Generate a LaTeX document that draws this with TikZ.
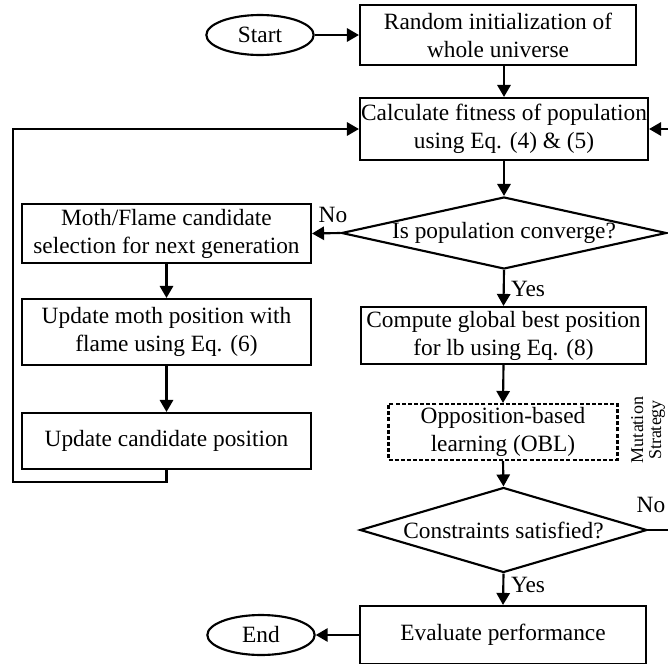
\documentclass[tikz,border=0pt]{standalone}
\usepackage{fontspec}
\setmainfont{Liberation Serif}
\usetikzlibrary{arrows.meta,shapes.geometric}
\begin{document}
\begin{tikzpicture}[x=0.75pt,y=-0.75pt,
    font=\fontsize{17.5}{21}\selectfont,
    every node/.style={inner sep=0pt,align=center},
    box/.style={draw,line width=1.6pt,rectangle},
    dbox/.style={draw,line width=1.6pt,rectangle,dash pattern=on 3pt off 1.6pt},
    term/.style={draw,line width=1.6pt,ellipse,minimum width=80.5pt,minimum height=30pt},
    test/.style={draw,line width=1.6pt,diamond},
    link/.style={line width=1.6pt,-{Triangle[length=9pt,width=10pt]}}]
  \useasboundingbox (0,0) rectangle (668,664);
  \draw
    (260,35) node[term] (start){Start}
    (498,35) node[box,minimum width=207pt,minimum height=45pt] (init){Random initialization of\\whole universe}
    (504,129) node[box,minimum width=216pt,minimum height=46.5pt] (fit){Calculate fitness of population\\using Eq. (4) \& (5)}
    (504,233) node[test,minimum width=243.75pt,minimum height=54pt] (conv){\makebox[0pt]{Is population converge?}}
    (166.5,233.5) node[box,minimum width=216.75pt,minimum height=44.25pt] (sel){Moth/Flame candidate\\selection for next generation}
    (166.5,332) node[box,minimum width=216.75pt,minimum height=49.5pt] (upd){Update moth position with\\flame using Eq. (6)}
    (166.5,441) node[box,minimum width=216.75pt,minimum height=42pt] (cand){Update candidate position}
    (503.5,335.5) node[box,minimum width=213.75pt,minimum height=42.75pt] (gbest){Compute global best position\\for lb using Eq. (8)}
    (503,432) node[dbox,minimum width=171.75pt,minimum height=42pt] (obl){Opposition-based\\learning (OBL)}
    (648,430) node[rotate=90,font=\fontsize{13.5}{13.5}\selectfont] (mut){Mutation\\Strategy}
    (503.5,530) node[test,minimum width=215.25pt,minimum height=63.75pt] (cons){\makebox[0pt]{Constraints satisfied?}}
    (503,635) node[box,minimum width=214.5pt,minimum height=43.5pt] (eval){Evaluate performance}
    (261,635) node[term] (end){End};
  % labels
  \node (no1) at (333,215) {No};
  \node (yes1) at (528,289) {Yes};
  \node (no2) at (651,505) {No};
  \node (yes2) at (528,585) {Yes};
  % loop corners
  \coordinate (lb) at (13,482);
  \coordinate (rb) at (690,530);
  \begin{scope}[link]
    \draw (start) -- (init);
    \draw (fit.north |- init.south) -- (fit.north);
    \draw (fit.south) -- (conv.north);
    \draw (conv.west) -- (sel.east);
    \draw (conv.south) -- (gbest.north);
    \draw (sel.south) -- (upd.north);
    \draw (upd.south) -- (cand.north);
    \draw (gbest.south) -- (obl.north);
    \draw (obl.south) -- (cons.north);
    \draw (cons.south) -- (eval.north);
    \draw (eval.west) -- (end.east);
    \draw (cand.south) |- (lb) |- (fit.west);
    \draw (cons.east) -- (rb) |- (fit.east);
  \end{scope}
\end{tikzpicture}
\end{document}
